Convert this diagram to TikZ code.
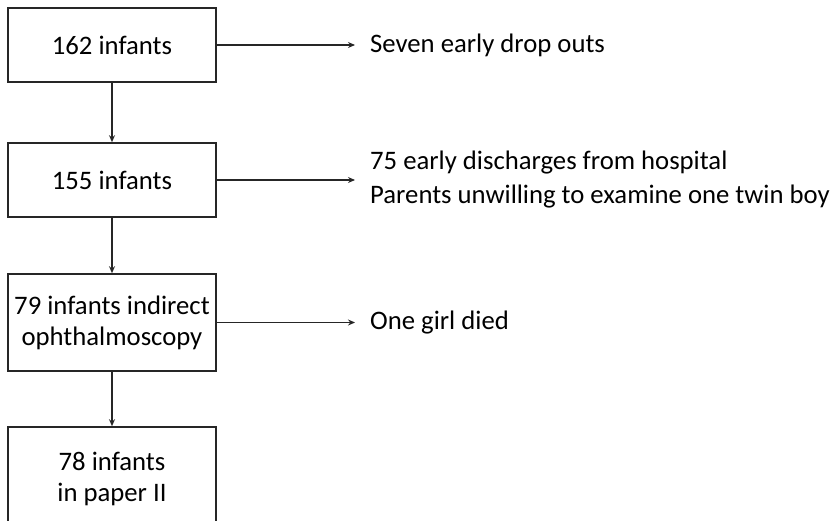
\documentclass[tikz,border=0pt]{standalone}
\usepackage{fontspec}
\setmainfont{Carlito}
\usetikzlibrary{arrows.meta}
\begin{document}
\begin{tikzpicture}[x=1pt,y=-1pt,
  every node/.style={font=\fontsize{26.7}{31}\selectfont, text=black},
  box/.style={draw=black!85, line width=1.6pt, minimum width=208pt, inner sep=0pt, align=center},
  side/.style={anchor=west, inner xsep=15pt, inner ysep=0pt, align=left, font=\fontsize{26.7}{34}\selectfont},
  arr/.style={draw=black!85, line width=1.5pt, -{Stealth[length=7pt,width=6pt]}}]
\useasboundingbox (0,0) rectangle (835,521);
\clip (0,0) rectangle (835,521);
\node[box, minimum height=74pt] (b1) at (112,45) {162 infants};
\node[box, minimum height=74pt] (b2) at (112,180) {155 infants};
\node[box, minimum height=97pt] (b3) at (112,322.5) {79 infants indirect\\ophthalmoscopy};
\node[box, minimum height=104pt] (b4) at (112,479) {78 infants\\in paper II};
\node[side] (t1) at (355,45) {Seven early drop outs};
\node[side] (t2) at (355,180) {75 early discharges from hospital\\Parents unwilling to examine one twin boy};
\node[side] (t3) at (355,322.5) {One girl died};
\draw[arr] (b1) -- (b2);
\draw[arr] (b2) -- (b3);
\draw[arr] (b3) -- (b4);
\draw[arr] (b1.east) -- (t1.west);
\draw[arr] (b2.east) -- (t2.west);
\draw[arr] (b3.east) -- (t3.west);
\end{tikzpicture}
\end{document}
